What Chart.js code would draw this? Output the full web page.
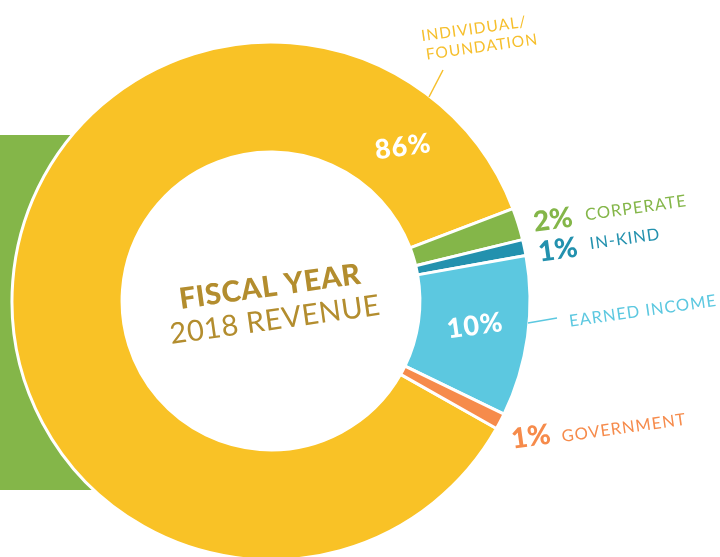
<!DOCTYPE html>
<html lang="en">
<head>
  <meta charset="UTF-8">
  <title>Fiscal Year 2018 Revenue</title>
  <script src="https://cdn.jsdelivr.net/npm/chart.js"></script>
  <style>
    html, body { margin: 0; padding: 0; background: #fff; overflow: hidden; }
    .chart-container { width: 720px; height: 557px; position: relative; }
  </style>
</head>
<body>
  <div class="chart-container">
    <canvas id="revenueChart"></canvas>
  </div>

<script>
const categories = ['INDIVIDUAL/FOUNDATION', 'CORPERATE', 'IN-KIND', 'EARNED INCOME', 'GOVERNMENT'];
const shares = [86, 2, 1, 10, 1];
const pctLabels = ['86%', '2%', '1%', '10%', '1%'];
const sliceColors = ['#F9C226', '#84B649', '#2391AE', '#5CC8E0', '#F68B4B'];
const textColors = ['#F6BF2C', '#84B649', '#2391AE', '#5CC8E0', '#F68B4B'];

const TILT = -8 * Math.PI / 180;
const FONT = 'Lato, "Open Sans", sans-serif';

function tiltedText(ctx, text, x, y, font, color, spacing) {
  ctx.save();
  ctx.translate(x, y);
  ctx.rotate(TILT);
  ctx.font = font;
  ctx.fillStyle = color;
  ctx.letterSpacing = (spacing || 0) + 'px';
  ctx.textAlign = 'center';
  ctx.textBaseline = 'middle';
  ctx.fillText(text, 0, 0);
  ctx.restore();
}

function leader(ctx, x1, y1, x2, y2, color) {
  ctx.save();
  ctx.strokeStyle = color;
  ctx.lineWidth = 1.5;
  ctx.beginPath();
  ctx.moveTo(x1, y1);
  ctx.lineTo(x2, y2);
  ctx.stroke();
  ctx.restore();
}

// green block sitting behind the ring on the left
const backdrop = {
  id: 'backdrop',
  beforeDatasetsDraw(chart) {
    const ctx = chart.ctx;
    ctx.save();
    ctx.fillStyle = '#84B649';
    ctx.fillRect(0, 135, 105, 355);
    ctx.restore();
  }
};

const labels = {
  id: 'labels',
  afterDatasetsDraw(chart) {
    const ctx = chart.ctx;
    const arcs = chart.getDatasetMeta(0).data;
    const bold = (s) => '900 ' + s + 'px ' + FONT;
    const light = (s) => '400 ' + s + 'px ' + FONT;

    // inside the ring
    tiltedText(ctx, pctLabels[0], 403, 147, bold(27), '#fff', 1);
    const p = arcs[3].tooltipPosition();
    tiltedText(ctx, pctLabels[3], p.x + 2, p.y - 3, bold(27), '#fff', 1);

    // outside labels
    tiltedText(ctx, 'INDIVIDUAL/', 474, 29, light(15.5), textColors[0], 1);
    tiltedText(ctx, 'FOUNDATION', 482, 47, light(15.5), textColors[0], 1);
    leader(ctx, 443, 70, 429, 97, textColors[0]);

    tiltedText(ctx, pctLabels[1], 553, 220, bold(28), textColors[1], 0);
    tiltedText(ctx, categories[1], 636, 208, light(16.5), textColors[1], 1);

    tiltedText(ctx, pctLabels[2], 558, 250, bold(28), textColors[2], 0);
    tiltedText(ctx, categories[2], 625, 239, light(16.5), textColors[2], 1);

    tiltedText(ctx, categories[3], 643, 311, light(16.5), textColors[3], 1);
    leader(ctx, 528, 323, 557, 318, textColors[3]);

    tiltedText(ctx, pctLabels[4], 531, 437, bold(28), textColors[4], 0);
    tiltedText(ctx, categories[4], 624, 428, light(16.5), textColors[4], 1);

    // centre title
    tiltedText(ctx, 'FISCAL YEAR', 270, 287, bold(29), '#B38D2E', 0.5);
    tiltedText(ctx, '2018 REVENUE', 275, 320, light(29), '#B38D2E', 0.5);
  }
};

new Chart(document.getElementById('revenueChart'), {
  type: 'doughnut',
  data: {
    labels: categories,
    datasets: [{
      data: shares,
      backgroundColor: sliceColors,
      borderColor: '#fff',
      borderWidth: 3,
      radius: 259,
      cutout: '57.5%'
    }]
  },
  options: {
    responsive: true,
    maintainAspectRatio: false,
    animation: false,
    rotation: 119.5,
    layout: { padding: { left: 11, right: 189, top: 45, bottom: 0 } },
    plugins: {
      legend: { display: false },
      tooltip: { enabled: false }
    }
  },
  plugins: [backdrop, labels]
});
</script>
</body>
</html>
